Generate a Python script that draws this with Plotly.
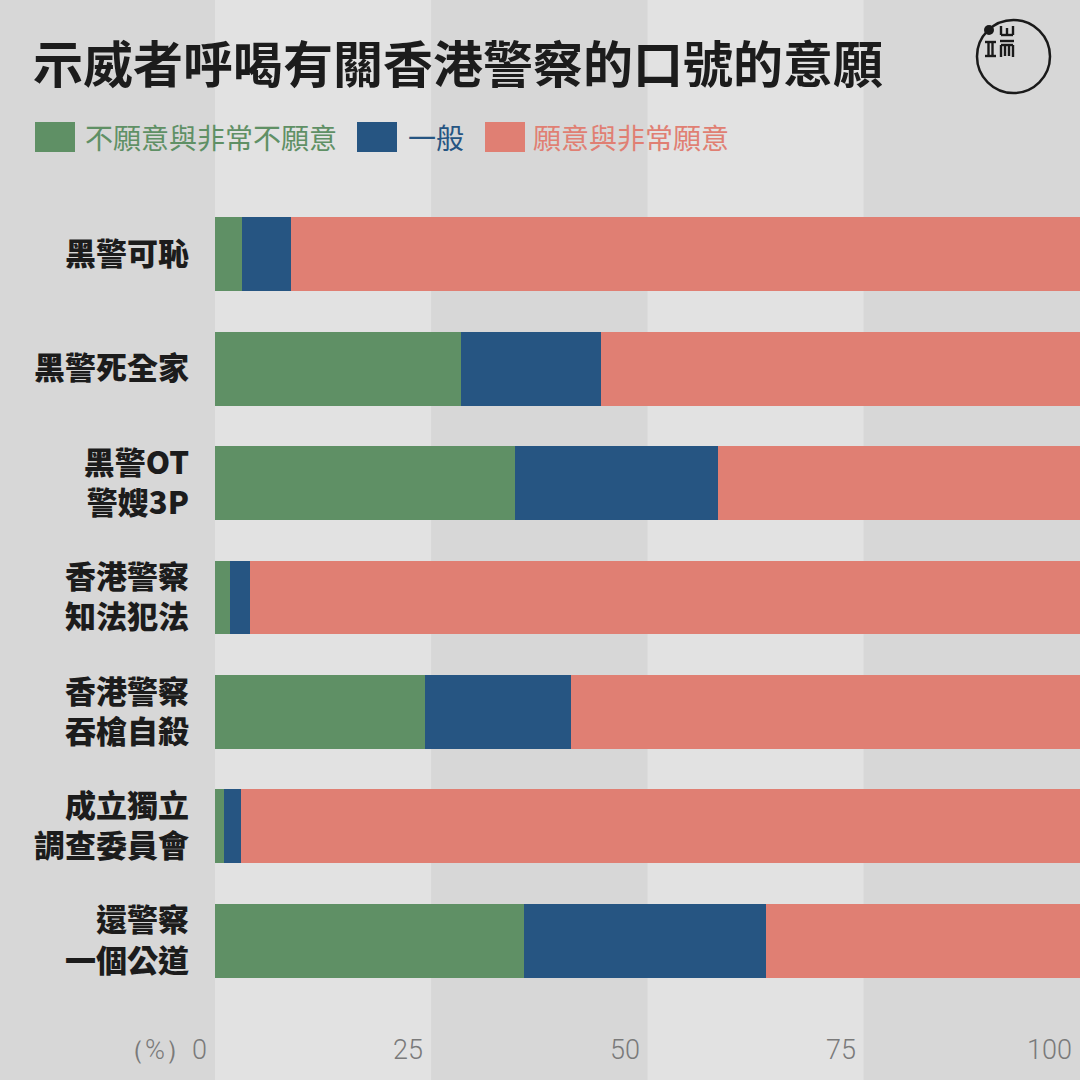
import plotly.graph_objects as go

# ---- data ----
categories = ["黑警可恥", "黑警死全家", "黑警OT<br>警嫂3P", "香港警察<br>知法犯法",
              "香港警察<br>吞槍自殺", "成立獨立<br>調查委員會", "還警察<br>一個公道"]
series_names = ["不願意與非常不願意", "一般", "願意與非常願意"]
unwilling = [3.1, 28.4, 34.7, 1.7, 24.3, 1.0, 35.7]
neutral = [5.7, 16.2, 23.5, 2.3, 16.9, 2.0, 28.0]
willing = [91.2, 55.4, 41.8, 96.0, 58.8, 97.0, 36.3]
x_ticks = [0, 25, 50, 75, 100]
x_tick_labels = ["（%）0", "25", "50", "75", "100"]

colors = ["#5f9065", "#265582", "#e07f73"]
title = "示威者呼喝有關香港警察的口號的意願"

W, H = 1080, 1080
L, R, T, B = 215, 1080, 197, 998


def px(x):
    return (x - L) / (R - L)


def py(y):
    return (B - y) / (B - T)


CJK = "Noto Sans CJK TC"

fig = go.Figure()
for name, vals, c in zip(series_names, [unwilling, neutral, willing], colors):
    fig.add_trace(go.Bar(
        y=categories, x=vals, name=name, orientation="h",
        marker=dict(color=c, line=dict(width=0)),
        hoverinfo="x+name",
    ))

shapes = []
# background bands
band_colors = ["#e2e2e2", "#d7d7d7", "#e2e2e2", "#d7d7d7"]
for i in range(4):
    shapes.append(dict(type="rect", xref="x", yref="paper",
                       x0=x_ticks[i], x1=x_ticks[i + 1], y0=-0.3, y1=1.4,
                       fillcolor=band_colors[i], line=dict(width=0), layer="below"))

annotations = []
# title
annotations.append(dict(text="<b>" + title + "</b>", xref="paper", yref="paper",
                        x=px(31), y=py(61), xanchor="left", yanchor="middle",
                        showarrow=False,
                        font=dict(family=CJK, size=50, color="#1c1c1c", weight=900)))

# legend (manual, large swatches)
legend_pos = [(35, 83), (357, 406), (485, 531)]
for (sx, tx), name, c in zip(legend_pos, series_names, colors):
    shapes.append(dict(type="rect", xref="paper", yref="paper",
                       x0=px(sx), x1=px(sx + 40), y0=py(152), y1=py(122),
                       fillcolor=c, line=dict(width=0)))
    annotations.append(dict(text=name, xref="paper", yref="paper",
                            x=px(tx), y=py(137), xanchor="left", yanchor="middle",
                            showarrow=False,
                            font=dict(family=CJK, size=28, color=c)))

# x tick labels
for v, t in zip(x_ticks, x_tick_labels):
    annotations.append(dict(text=t, xref="x", yref="paper", x=v, y=py(1050),
                            xanchor="right", yanchor="middle", xshift=-6,
                            showarrow=False,
                            font=dict(family="Roboto", size=27, color="#7a7a7a",
                                      weight=300)))

# logo: circle, dot and a stylised glyph drawn with strokes
shapes.append(dict(type="circle", xref="paper", yref="paper",
                   x0=px(977), x1=px(1050), y0=py(93), y1=py(20),
                   line=dict(color="#1a1a1a", width=2.5)))
shapes.append(dict(type="circle", xref="paper", yref="paper",
                   x0=px(984), x1=px(994), y0=py(35), y1=py(25),
                   fillcolor="#1a1a1a", line=dict(width=0)))
logo_strokes = [
    # 工-like
    (985, 42, 996, 42), (985, 56, 996, 56), (988.5, 42, 988.5, 56), (992.5, 42, 992.5, 56),
    # 山-like
    (1001, 26, 1001, 35), (1007, 28, 1007, 35), (1013, 26, 1013, 35), (1001, 35, 1013, 35),
    # 而-like
    (1000, 41, 1014, 41), (1001, 45, 1013, 45), (1001, 45, 1001, 57), (1013, 45, 1013, 57),
    (1005, 45, 1005, 56), (1009, 45, 1009, 56),
]
for x0, y0, x1, y1 in logo_strokes:
    shapes.append(dict(type="line", xref="paper", yref="paper",
                       x0=px(x0), y0=py(y0), x1=px(x1), y1=py(y1),
                       line=dict(color="#1a1a1a", width=2.4)))

fig.update_layout(
    width=W, height=H,
    margin=dict(l=L, r=W - R, t=T, b=H - B, pad=0),
    paper_bgcolor="#d7d7d7",
    plot_bgcolor="rgba(0,0,0,0)",
    barmode="stack",
    bargap=0.354,
    showlegend=False,
    shapes=shapes,
    annotations=annotations,
    xaxis=dict(range=[0, 100], showgrid=False, zeroline=False,
               showticklabels=False, ticks="", fixedrange=True),
    yaxis=dict(range=[6.5, -0.5], type="category", showgrid=False, zeroline=False,
               ticks="", ticklabelstandoff=25,
               tickfont=dict(family=CJK, size=31, color="#1c1c1c", weight=900)),
)

fig.write_html("out.html", config={"displayModeBar": False},
               post_script="document.body.style.margin='0';document.body.style.background='#d7d7d7';")
